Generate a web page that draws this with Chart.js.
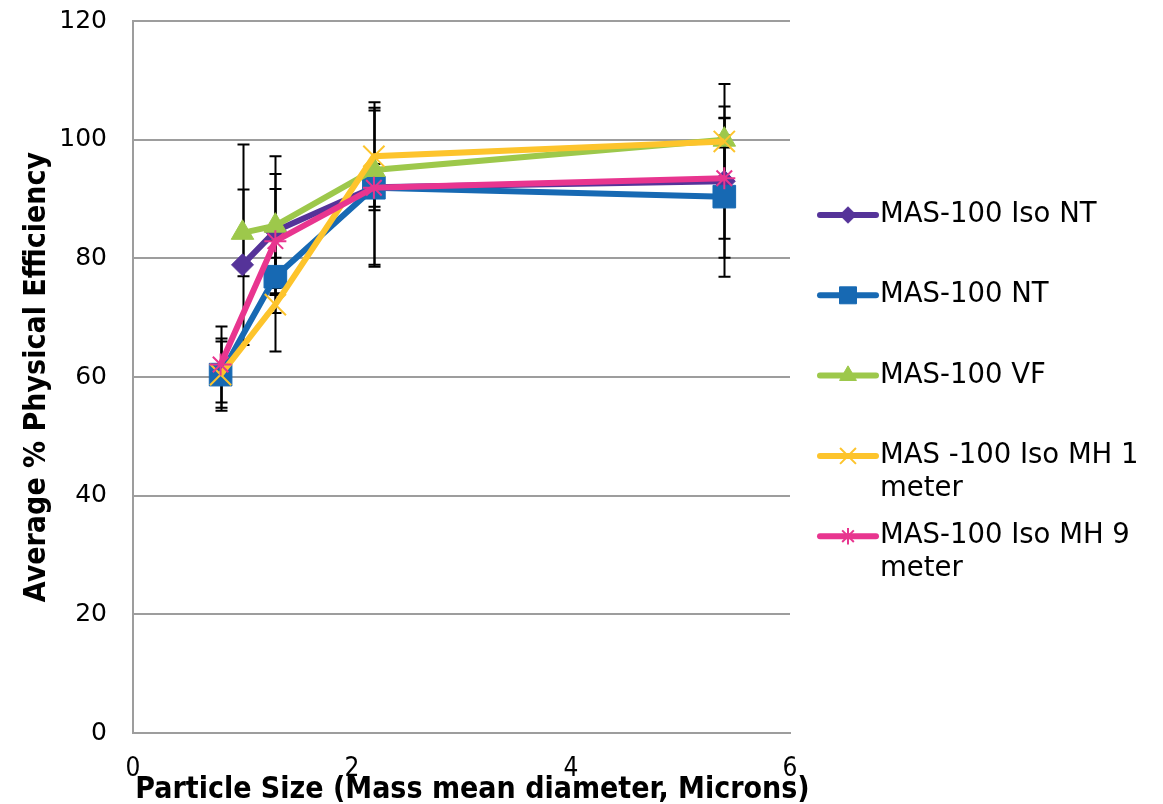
<!DOCTYPE html>
<html>
<head>
<meta charset="utf-8">
<title>Average % Physical Efficiency</title>
<script src="https://cdn.jsdelivr.net/npm/chart.js@4/dist/chart.umd.min.js"></script>
<style>
    html, body { margin: 0; padding: 0; background: #fff; }
    #wrap { width: 1163px; height: 804px; }
</style>
</head>
<body>
<div id="wrap"><canvas id="chart" width="1163" height="804"></canvas></div>
<script>
// series names (legend text, wrapped as in the original)
const seriesNames = [
    ['MAS-100 Iso NT'],
    ['MAS-100 NT'],
    ['MAS-100 VF'],
    ['MAS -100 Iso MH 1', 'meter'],
    ['MAS-100 Iso MH 9', 'meter']
];
const xTitle = 'Particle Size (Mass mean diameter, Microns)';
const yTitle = 'Average % Physical Efficiency';

// particle size (microns) and average efficiency (%) per series
const xIsoNT = [1.0, 1.3, 2.2, 5.4];
const yIsoNT = [78.9, 84.6, 92.0, 93.0];
const upIsoNT = [20.3, 9.6, 13.4, 12.6];
const downIsoNT = [13.5, 9.6, 13.4, 12.9];

const xNT = [0.8, 1.3, 2.2, 5.4];
const yNT = [60.4, 76.9, 91.9, 90.4];
const upNT = [6.1, 6.1, 13.0, 13.3];
const downNT = [6.1, 6.1, 13.0, 13.5];

const xVF = [1.0, 1.3, 2.2, 5.4];
const yVF = [84.3, 85.5, 94.9, 100.0];
const upVF = [7.3, 11.7, 1.0, 9.4];
const downVF = [7.3, 11.7, 1.0, 9.4];

const xMH1 = [0.8, 1.3, 2.2, 5.4];
const yMH1 = [60.4, 72.2, 97.2, 99.7];
const upMH1 = [5.6, 7.9, 9.1, 1.0];
const downMH1 = [5.6, 7.9, 9.1, 1.0];

const xMH9 = [0.8, 1.3, 2.2, 5.4];
const yMH9 = [62.1, 82.9, 91.9, 93.5];
const upMH9 = [6.4, 8.8, 3.2, 10.1];
const downMH9 = [6.4, 8.8, 3.2, 10.2];

const xTicks = [0, 2, 4, 6];
const yTicks = [0, 20, 40, 60, 80, 100, 120];

const colors = ['#553399', '#1769b3', '#9dc84b', '#fdc42c', '#e8358f'];
const pointStyles = ['rectRot', 'rect', 'triangle', 'crossRot', 'star'];
const pointRadii = [11, 16, 13, 15, 11];
const pointBorders = [1, 1, 1, 2, 2];

function toPoints(xs, ys) {
    return xs.map((x, i) => ({ x: x, y: ys[i] }));
}

const allX = [xIsoNT, xNT, xVF, xMH1, xMH9];
const allY = [yIsoNT, yNT, yVF, yMH1, yMH9];
const allUp = [upIsoNT, upNT, upVF, upMH1, upMH9];
const allDown = [downIsoNT, downNT, downVF, downMH1, downMH9];

const datasets = seriesNames.map((name, i) => ({
    label: name.join(' '),
    data: toPoints(allX[i], allY[i]),
    errUp: allUp[i],
    errDown: allDown[i],
    showLine: true,
    borderColor: colors[i],
    backgroundColor: colors[i],
    borderWidth: 6,
    tension: 0,
    pointStyle: pointStyles[i],
    pointRadius: pointRadii[i],
    pointHoverRadius: pointRadii[i],
    pointBorderWidth: pointBorders[i],
    pointBorderColor: colors[i],
    pointBackgroundColor: colors[i],
    order: 5 - i
}));

// vertical error bars, behind the lines
const errorBars = {
    id: 'errorBars',
    beforeDatasetsDraw(chart) {
        const ctx = chart.ctx;
        const xs = chart.scales.x;
        const ys = chart.scales.y;
        ctx.save();
        ctx.strokeStyle = '#000';
        ctx.lineWidth = 2;
        chart.data.datasets.forEach(ds => {
            ds.data.forEach((p, i) => {
                const px = Math.round(xs.getPixelForValue(p.x)) + 0.5;
                const top = ys.getPixelForValue(p.y + ds.errUp[i]);
                const bot = ys.getPixelForValue(p.y - ds.errDown[i]);
                ctx.beginPath();
                ctx.moveTo(px, top);
                ctx.lineTo(px, bot);
                ctx.moveTo(px - 6, top);
                ctx.lineTo(px + 6, top);
                ctx.moveTo(px - 6, bot);
                ctx.lineTo(px + 6, bot);
                ctx.stroke();
            });
        });
        ctx.restore();
    }
};

// x title drawn by hand so it is not squeezed to the axis width
const xTitlePlugin = {
    id: 'xTitlePlugin',
    afterDraw(chart) {
        const ctx = chart.ctx;
        const area = chart.chartArea;
        ctx.save();
        ctx.fillStyle = '#000';
        ctx.font = 'bold 30px "DejaVu Sans Condensed"';
        ctx.textAlign = 'center';
        ctx.textBaseline = 'middle';
        ctx.fillText(xTitle, (area.left + area.right) / 2 + 11, 790);
        ctx.restore();
    }
};

// legend drawn to the right of the plot, with wrapped labels
const sideLegend = {
    id: 'sideLegend',
    afterDraw(chart) {
        const ctx = chart.ctx;
        const x0 = 820, x1 = 876, textX = 880;
        let y = 215;
        ctx.save();
        chart.data.datasets.forEach((ds, i) => {
            ctx.strokeStyle = ds.borderColor;
            ctx.lineWidth = 6;
            ctx.lineCap = 'round';
            ctx.beginPath();
            ctx.moveTo(x0, y);
            ctx.lineTo(x1, y);
            ctx.stroke();
            ctx.lineCap = 'butt';
            ctx.fillStyle = ds.borderColor;
            ctx.lineWidth = ds.pointBorderWidth;
            Chart.helpers.drawPoint(ctx, {
                pointStyle: ds.pointStyle,
                radius: ds.pointRadius * 0.75,
                rotation: 0,
                borderWidth: ds.pointBorderWidth
            }, (x0 + x1) / 2, y);
            ctx.fillStyle = '#000';
            ctx.font = '27.5px "DejaVu Sans"';
            ctx.textBaseline = 'middle';
            ctx.textAlign = 'left';
            seriesNames[i].forEach((line, k) => {
                ctx.fillText(line, textX, y + k * 33);
            });
            y += 80.3;
        });
        ctx.restore();
    }
};

new Chart(document.getElementById('chart'), {
    type: 'scatter',
    data: { datasets: datasets },
    options: {
        responsive: false,
        animation: false,
        layout: { padding: { top: 21, right: 373, bottom: 0, left: 0 } },
        plugins: {
            legend: { display: false },
            tooltip: { enabled: false }
        },
        scales: {
            x: {
                type: 'linear',
                min: 0,
                max: 6,
                afterFit: function(scale) { scale.height = 71; },
                afterBuildTicks: function(scale) {
                    scale.ticks = xTicks.map(v => ({ value: v }));
                },
                grid: { display: false, drawTicks: false },
                border: { display: true, color: '#9d9d9d', width: 2 },
                ticks: {
                    padding: 21,
                    color: '#000',
                    maxRotation: 0,
                    font: { family: '"DejaVu Sans Condensed"', size: 26 }
                },
                title: { display: false }
            },
            y: {
                min: 0,
                max: 120,
                afterFit: function(scale) {
                    scale.width = 133;
                    scale.paddingTop = 0;
                    scale.paddingBottom = 0;
                },
                afterBuildTicks: function(scale) {
                    scale.ticks = yTicks.map(v => ({ value: v }));
                },
                grid: { color: '#9d9d9d', lineWidth: 2, drawTicks: false },
                border: { display: true, color: '#9d9d9d', width: 2 },
                ticks: {
                    padding: 26,
                    color: '#000',
                    font: { family: '"DejaVu Sans"', size: 25 }
                },
                title: {
                    display: true,
                    text: yTitle,
                    color: '#000',
                    padding: { top: 19, bottom: 0 },
                    font: { family: '"DejaVu Sans Condensed"', size: 30, weight: 'bold' }
                }
            }
        }
    },
    plugins: [errorBars, xTitlePlugin, sideLegend]
});
</script>
</body>
</html>
